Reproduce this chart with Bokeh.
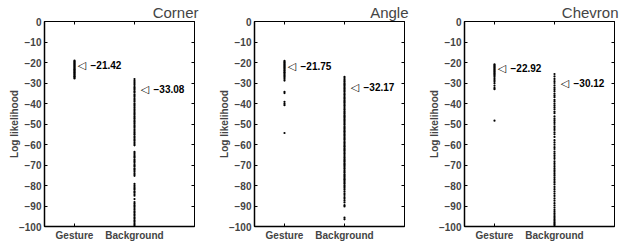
from bokeh.plotting import figure
from bokeh.layouts import row
from bokeh.models import Range1d, FixedTicker, LinearAxis
from bokeh.core.properties import value
from bokeh.embed import file_html
from bokeh.resources import INLINE

categories = ["Gesture", "Background"]
cat_pos = [1, 2]
y_ticks = [0, -10, -20, -30, -40, -50, -60, -70, -80, -90, -100]
titles = ["Corner", "Angle", "Chevron"]

corner_gesture = [-19.1, -19.5, -19.9, -20.3, -20.6, -21.0, -21.4, -21.7, -22.1, -22.5, -22.9,
                  -23.3, -23.6, -24.0, -24.4, -24.8, -25.1, -25.5, -25.9, -26.3, -26.7, -27.0,
                  -27.4, -27.8]
corner_bg = [-28.1, -28.9, -29.6, -30.4, -31.0, -31.9, -32.5, -33.2, -34.0, -34.6, -35.5, -36.1,
             -36.8, -37.7, -38.3, -39.0, -39.9, -40.5, -41.2, -42.0, -42.7, -43.3, -44.1, -44.8,
             -45.4, -46.2, -46.9, -47.5, -48.4, -49.0, -49.7, -50.5, -51.1, -51.8, -52.6, -53.3,
             -54.0, -54.7, -55.3, -56.1, -56.8, -57.6, -58.2, -58.9, -59.7, -60.4,
             -63.6, -64.3, -65.1, -65.8, -66.4, -67.3, -68.0, -68.6, -69.5, -70.2, -70.8, -71.7,
             -72.3, -73.0, -73.9, -74.5, -75.3,
             -79.2, -79.9, -80.7, -81.4, -82.0, -82.9, -83.5, -84.3, -85.0, -86.6, -88.1, -88.8,
             -89.6, -90.3, -91.0, -91.8, -92.6, -93.2, -94.0, -94.7, -95.5, -96.1, -96.9, -97.6,
             -98.3, -99.0, -99.7]

angle_gesture = [-19.2, -19.7, -20.1, -20.6, -21.0, -21.5, -21.9, -22.4, -22.8, -23.3, -23.8,
                 -24.2, -24.7, -25.1, -25.6, -26.2, -26.7, -27.3, -28.0, -28.8,
                 -34.3, -34.9, -39.2, -40.1, -40.8, -54.4]
angle_bg = [-27.0, -27.6, -28.3, -28.9, -29.4, -30.1, -30.7, -31.2, -31.9, -32.5, -33.1, -33.7,
            -34.2, -34.9, -35.5, -36.0, -36.7, -37.3, -37.8, -38.5, -39.1, -39.6, -40.3, -40.9,
            -41.4, -42.1, -42.7, -43.2, -43.9, -44.5, -45.0, -45.7, -46.3, -46.8, -47.5, -48.1,
            -48.6, -49.3, -49.9, -50.4, -51.1, -51.7, -52.2, -52.9, -53.5, -54.0, -54.7, -55.3,
            -55.8, -56.5, -57.1, -57.6, -58.3, -58.9, -59.4, -60.1, -60.7, -61.2, -61.9, -62.5,
            -63.0, -63.7, -64.3, -64.8, -65.5, -66.1, -66.6, -67.3, -67.9, -68.4, -69.1, -69.7,
            -70.2, -70.9, -71.5, -72.0, -72.7, -73.3, -73.8, -74.5, -75.1, -75.6, -76.3, -76.9,
            -77.4, -78.1, -78.7, -79.2, -79.9, -80.5, -81.2, -82.0, -82.9, -83.8, -84.6, -85.7,
            -86.5, -87.4, -88.3, -89.6, -90.2, -95.7, -96.5]

chevron_gesture = [-20.9, -21.3, -21.8, -22.2, -22.6, -23.1, -23.5, -24.0, -24.4, -24.9, -25.4,
                   -25.8, -26.4, -27.0, -27.7, -28.5, -29.2, -30.1, -31.3, -32.4, -33.0, -48.4]
chevron_bg = [-25.6, -26.8, -28.0, -29.1, -30.0, -31.2, -32.3, -33.1, -34.0, -35.2, -36.1, -36.9,
              -38.2, -39.0, -40.1, -41.0, -41.9, -42.8, -43.9, -44.7, -46.3, -47.4, -48.2, -49.1,
              -50.0, -51.2, -52.0, -52.9, -54.1, -55.0, -56.3, -57.9, -59.0, -60.1, -61.3, -62.2,
              -63.5, -64.4, -65.3, -66.1, -67.0, -68.2, -69.1, -70.0, -70.9, -71.8, -72.6, -73.4,
              -74.3, -75.1, -76.0, -76.9, -77.8, -78.6, -79.5, -80.7, -81.8, -82.9, -84.0, -85.1,
              -86.3, -87.4, -88.6, -89.7, -90.8, -91.9, -92.8, -93.6, -94.4, -95.2, -95.9, -96.6,
              -97.3, -98.0, -98.6, -99.2, -99.8]

gesture_marks = [-21.42, -21.75, -22.92]
background_marks = [-33.08, -32.17, -30.12]

series = [(corner_gesture, corner_bg), (angle_gesture, angle_bg), (chevron_gesture, chevron_bg)]

FONT = "Liberation Sans"


def fmt(v):
    return str(v).replace("-", "\u2212")


def make_panel(i):
    right_border = 16 if i < 2 else 7
    p = figure(frame_width=150, frame_height=205, output_backend="svg", toolbar_location=None,
               x_range=Range1d(0.5, 3), y_range=Range1d(-100, 0),
               min_border_left=44, min_border_right=right_border, min_border_top=0,
               min_border_bottom=0, background_fill_color="white", border_fill_color="white")
    p.grid.visible = False
    p.outline_line_color = "black"
    p.outline_line_width = 1

    p.title.text = titles[i]
    p.title.align = "right"
    p.title.text_font = FONT
    p.title.text_font_style = "normal"
    p.title.text_font_size = "15px"
    p.title.standoff = 2
    p.title.offset = -4

    # y axis
    ya = p.yaxis[0]
    ya.ticker = FixedTicker(ticks=y_ticks)
    ya.major_label_overrides = {t: fmt(t) for t in y_ticks}
    ya.minor_tick_line_color = None
    ya.major_tick_in = 3
    ya.major_tick_out = 0
    ya.axis_line_width = 1.5
    ya.major_label_standoff = 3
    ya.major_label_text_font = FONT
    ya.major_label_text_font_style = "bold"
    ya.major_label_text_font_size = "10px"
    ya.axis_label = "Log likelihood"
    ya.axis_label_text_font = FONT
    ya.axis_label_text_font_style = "bold"
    ya.axis_label_text_font_size = "10px"
    ya.axis_label_standoff = -4

    # x axis
    xa = p.xaxis[0]
    xa.ticker = FixedTicker(ticks=cat_pos)
    xa.major_label_overrides = {c: n for c, n in zip(cat_pos, categories)}
    xa.minor_tick_line_color = None
    xa.major_tick_in = 3
    xa.major_tick_out = 0
    xa.axis_line_width = 1.5
    xa.major_label_standoff = 3
    xa.major_label_text_font = FONT
    xa.major_label_text_font_style = "bold"
    xa.major_label_text_font_size = "10px"

    # mirrored ticks (right, top) without labels
    ra = LinearAxis(ticker=FixedTicker(ticks=y_ticks), major_label_text_font_size="1px",
                    major_label_text_color=None,
                    major_tick_in=3, major_tick_out=0, minor_tick_line_color=None,
                    major_label_standoff=0)
    p.add_layout(ra, "right")
    ta = LinearAxis(ticker=FixedTicker(ticks=cat_pos), major_label_text_font_size="1px",
                    major_label_text_color=None,
                    major_tick_in=3, major_tick_out=0, minor_tick_line_color=None,
                    major_label_standoff=0)
    p.add_layout(ta, "above")

    g, b = series[i]
    p.scatter([cat_pos[0]] * len(g), g, marker="circle", size=2.2, fill_color="black",
              line_color=None)
    p.scatter([cat_pos[1]] * len(b), b, marker="circle", size=2.2, fill_color="black",
              line_color=None)

    for cx, val, toff, voff in [(cat_pos[0], gesture_marks[i], 3, 16),
                                (cat_pos[1], background_marks[i], 6, 19)]:
        p.text([cx], [val], text=["\u25c1"], x_offset=toff, text_align="left",
               text_baseline="middle", text_font=value("DejaVu Sans"),
               text_font_size="11px", text_color="black")
        p.text([cx], [val], text=[fmt(val)], x_offset=voff, text_align="left",
               text_baseline="middle", text_font=value(FONT), text_font_style="bold",
               text_font_size="10px", text_color="black")
    return p


panels = [make_panel(i) for i in range(3)]
layout = row(*panels, spacing=0)
html = file_html(layout, INLINE)
html = html.replace("<head>", "<head><style>html, body { overflow: hidden; }</style>", 1)
open("out.html", "w").write(html)
